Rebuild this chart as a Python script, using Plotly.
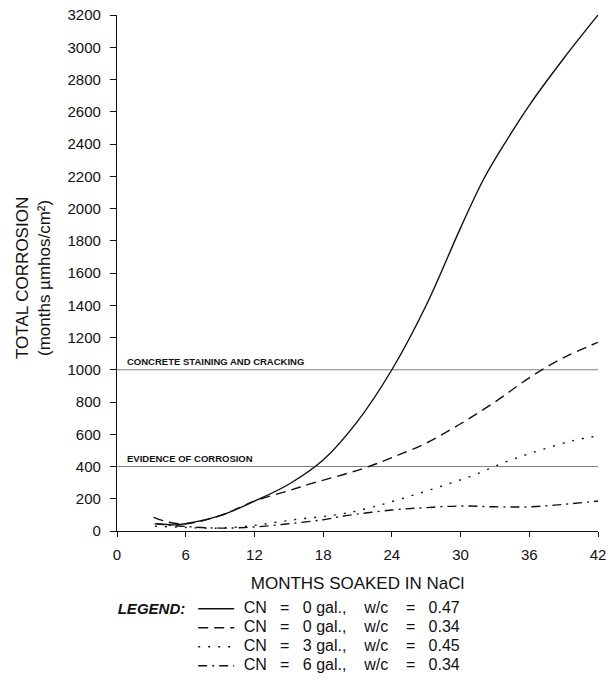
import plotly.graph_objects as go

# ---- data ----
months_a = [3.5, 5, 6, 9, 12, 15, 18, 21, 24, 27, 30, 32, 34, 36, 39, 42]
corr_a = [45, 38, 45, 95, 185, 290, 440, 680, 1000, 1400, 1880, 2180, 2420, 2640, 2930, 3200]

months_b = [3.2, 4.5, 6, 9, 12, 15, 17, 20, 22, 24, 27, 30, 33, 36, 39, 42]
corr_b = [85, 55, 45, 95, 185, 250, 295, 355, 400, 455, 545, 665, 800, 950, 1075, 1170]

months_c = [3.3, 6, 9, 12, 14, 16, 18, 20, 22.4, 25.3, 28.2, 31.1, 34, 36.9, 39.8, 42]
corr_c = [30, 22, 18, 35, 55, 75, 90, 110, 150, 210, 275, 345, 430, 500, 560, 590]

months_d = [3.3, 6, 9, 12, 15, 18, 20, 24, 27, 30, 33, 36, 39, 42]
corr_d = [45, 28, 18, 25, 45, 70, 95, 130, 145, 155, 150, 150, 165, 186]

NB = "\u00a0"
cn_values = ["0", "0", "3", "6"]
wc_values = ["0.47", "0.34", "0.45", "0.34"]
series_names = [
    f"{NB}CN{NB*3}={NB*3}{cn} gal.,{NB*4}w/c{NB*4}={NB*3}{wc}"
    for cn, wc in zip(cn_values, wc_values)
]

thresholds = [1000, 400]
threshold_labels = ["CONCRETE STAINING AND CRACKING", "EVIDENCE OF CORROSION"]

x_ticks = [0, 6, 12, 18, 24, 30, 36, 42]
y_ticks = list(range(0, 3201, 200))

FONT = "Arial, Liberation Sans, Helvetica, sans-serif"
INK = "#111111"

fig = go.Figure()

styles = ["solid", "10px,6px", "2px,8px", "9px,5px,2px,5px"]
for xs, ys, name, dash in zip([months_a, months_b, months_c, months_d],
                              [corr_a, corr_b, corr_c, corr_d],
                              series_names, styles):
    fig.add_trace(go.Scatter(
        x=xs, y=ys, mode="lines",
        name=f"<span style='font-size:16px'>{name}</span>",
        line=dict(color=INK, width=1.4, dash=dash, shape="spline", smoothing=1.0),
    ))

for val, lab in zip(thresholds, threshold_labels):
    fig.add_hline(y=val, line=dict(color="#808080", width=1), layer="below")
    fig.add_annotation(
        x=0, y=val, xref="x", yref="y", text=lab, showarrow=False,
        xanchor="left", yanchor="bottom", xshift=8, yshift=1,
        font=dict(family=FONT, size=9.5, color=INK, weight="bold"),
    )

# y-axis title as a rotated annotation (left of the tick labels)
fig.add_annotation(
    x=-0.175, y=0.49, xref="paper", yref="paper",
    text="TOTAL CORROSION<br>(months \u00b5mhos/cm\u00b2)",
    textangle=-90, showarrow=False, xanchor="center", yanchor="middle",
    font=dict(family=FONT, size=17, color=INK),
)

fig.update_layout(
    width=609, height=687,
    margin=dict(l=117, r=11, t=15, b=156, autoexpand=False),
    paper_bgcolor="white", plot_bgcolor="white",
    font=dict(family=FONT, color=INK),
    showlegend=True,
    legend=dict(
        xref="container", yref="container",
        x=0.19, y=0.135, xanchor="left", yanchor="top",
        font=dict(family=FONT, size=10, color=INK),
        itemwidth=36,
        title=dict(text="LEGEND:", side="left",
                   font=dict(family=FONT, size=15, color=INK, style="italic", weight="bold")),
        tracegroupgap=0, bgcolor="rgba(0,0,0,0)",
    ),
)

fig.update_xaxes(
    range=[0, 42], tickvals=x_ticks, ticktext=[str(v) for v in x_ticks],
    automargin=False,
    showgrid=False, zeroline=False, showline=True, linecolor=INK, linewidth=1.3,
    ticks="outside", ticklen=5, tickcolor=INK, tickwidth=1.2, ticklabelstandoff=5,
    tickfont=dict(family=FONT, size=15, color=INK),
    title=dict(text="MONTHS SOAKED IN NaCl", font=dict(family=FONT, size=17, color=INK), standoff=14),
)
fig.update_yaxes(
    range=[0, 3200], tickvals=y_ticks,
    automargin=False,
    showgrid=False, zeroline=False, showline=True, linecolor=INK, linewidth=1.3,
    ticks="outside", ticklen=6, tickcolor=INK, tickwidth=1.2, ticklabelstandoff=6,
    tickfont=dict(family=FONT, size=15, color=INK),
)

fig.write_html("out.html")
